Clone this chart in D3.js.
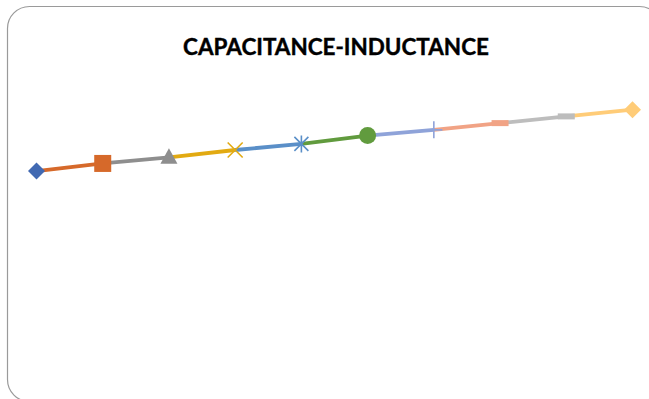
<!DOCTYPE html>
<html>
<head>
<meta charset="utf-8">
<script src="https://cdn.jsdelivr.net/npm/d3@7"></script>
<style>
  html, body { margin: 0; padding: 0; background: #fff; }
  svg { display: block; }
</style>
</head>
<body>
<div id="chart"></div>
<script>
// Capacitance–inductance line, one colour per point
const categories = [1, 2, 3, 4, 5, 6, 7, 8, 9, 10];
const values = [68.4, 70.8, 72.7, 75.0, 76.9, 79.5, 81.3, 83.4, 85.5, 87.6];
const pointColors = ["#4169B2", "#D6692A", "#8E8E8E", "#E2AA12", "#5A8FC8",
                     "#619B3E", "#8FA3D9", "#F1A385", "#BDBDBD", "#FFCC78"];
const markerTypes = ["diamond", "square", "triangle", "x", "star",
                     "circle", "plus", "dash", "dash", "diamond"];
const titleText = "CAPACITANCE-INDUCTANCE";

const W = 649, H = 399;
const svg = d3.select("#chart").append("svg")
  .attr("width", W).attr("height", H);

// chart frame (rounded, running just past the right and bottom edges)
svg.append("rect")
  .attr("x", 7.5).attr("y", 6.5)
  .attr("width", 654).attr("height", 395)
  .attr("rx", 22).attr("ry", 22)
  .attr("fill", "#fff")
  .attr("stroke", "#9a9a9a").attr("stroke-width", 1.2);

// title
const title = svg.append("text")
  .attr("x", 336).attr("y", 55)
  .attr("text-anchor", "middle")
  .attr("font-family", "Lato, 'Open Sans', sans-serif")
  .attr("font-weight", 700)
  .attr("font-size", 20)
  .attr("fill", "#000")
  .attr("stroke", "#000").attr("stroke-width", 0.4)
  .text(titleText);
const tw = title.node().getComputedTextLength();
title.attr("font-size", 20 * 306 / tw);

const x = d3.scalePoint().domain(categories).range([36.5, 632.5]);
const y = d3.scaleLinear().domain([0, 100]).range([390, 70]);

const pts = categories.map((c, i) => ({ c, v: values[i], i }));

// line segments, each coloured by the point it ends on
const segs = pts.slice(1).map((p, k) => [pts[k], p]);
const line = d3.line().x(d => x(d.c)).y(d => y(d.v));
svg.append("g").selectAll("path").data(segs).join("path")
  .attr("d", line)
  .attr("fill", "none")
  .attr("stroke", d => pointColors[d[1].i])
  .attr("stroke-width", 3.8)
  .attr("stroke-linecap", "butt");

// markers
const mg = svg.append("g");
pts.forEach(p => {
  const cx = x(p.c), cy = y(p.v), col = pointColors[p.i];
  const g = mg.append("g").attr("transform", `translate(${cx},${cy})`);
  switch (markerTypes[p.i]) {
    case "diamond":
      g.append("path").attr("d", "M0,-8.5L8.5,0L0,8.5L-8.5,0Z").attr("fill", col);
      break;
    case "square":
      g.append("rect").attr("x", -8.5).attr("y", -8.5)
        .attr("width", 17).attr("height", 17).attr("fill", col);
      break;
    case "triangle":
      g.append("path").attr("d", "M0,-9L8.5,6.5L-8.5,6.5Z").attr("fill", col);
      break;
    case "circle":
      g.append("circle").attr("r", 8.5).attr("fill", col);
      break;
    case "x":
      g.append("path").attr("d", "M-7.5,-7.5L7.5,7.5M-7.5,7.5L7.5,-7.5")
        .attr("stroke", col).attr("stroke-width", 1.6).attr("fill", "none");
      break;
    case "star":
      g.append("path").attr("d", "M-7,-7L7,7M-7,7L7,-7M0,-8.5L0,8.5")
        .attr("stroke", col).attr("stroke-width", 1.6).attr("fill", "none");
      break;
    case "plus":
      g.append("path").attr("d", "M0,-8.5L0,8.5M-8.5,0L8.5,0")
        .attr("stroke", col).attr("stroke-width", 1.6).attr("fill", "none");
      break;
    case "dash":
      g.append("rect").attr("x", -8.5).attr("y", -3)
        .attr("width", 17).attr("height", 6).attr("fill", col);
      break;
  }
});
</script>
</body>
</html>
